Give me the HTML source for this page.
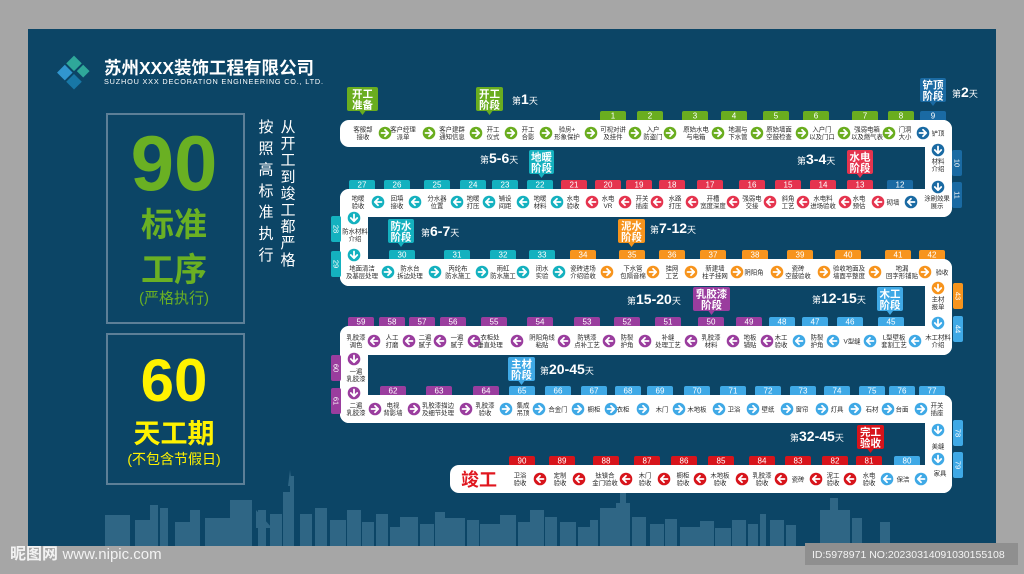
<!DOCTYPE html>
<html><head><meta charset="utf-8">
<style>
html,body{margin:0;padding:0;background:#a6a6a6;}
svg{display:block;}
text{font-family:"Liberation Sans","Noto Sans CJK SC",sans-serif;}
</style></head>
<body>
<svg id="s" width="1024" height="574" viewBox="0 0 1024 574" xmlns="http://www.w3.org/2000/svg">
<rect x="0" y="0" width="1024" height="574" fill="#a6a6a6"/>
<rect x="28" y="29" width="968" height="517" fill="#0c4566"/>
<g id="sky" fill="#2f6685"></g>
<rect x="805" y="543" width="213" height="22" fill="#8f8f8f"/>
<text x="10" y="559" font-size="16" font-weight="bold" fill="#f2f2f2">昵图网 <tspan font-size="15" font-weight="normal">www.nipic.com</tspan></text>
<text x="812" y="558" font-size="10.5" fill="#f4f4f4">ID:5978971 NO:20230314091030155108</text>
<g transform="translate(74,74) rotate(45)">
<rect x="-13" y="-13" width="11" height="11" fill="#2fa89a"/>
<rect x="0" y="-13" width="9" height="9" fill="#2fa89a"/>
<rect x="-13" y="0" width="11" height="11" fill="#3196cf"/>
<rect x="0" y="0" width="11" height="11" fill="#1877a6"/>
</g>
<text x="104" y="74" font-size="17.5" font-weight="bold" fill="#fff">苏州XXX装饰工程有限公司</text>
<text x="104" y="84" font-size="7.3" fill="#fff" textLength="219">SUZHOU XXX DECORATION ENGINEERING CO., LTD.</text>
<rect x="107" y="114" width="137" height="209" fill="none" stroke="#5d7f97" stroke-width="2"/>
<rect x="107" y="334" width="137" height="150" fill="none" stroke="#5d7f97" stroke-width="2"/>
<text x="174" y="190" font-size="78" font-weight="bold" fill="#6ab023" text-anchor="middle">90</text>
<text x="174" y="236" font-size="33" font-weight="bold" fill="#6ab023" text-anchor="middle">标准</text>
<text x="174" y="281" font-size="33" font-weight="bold" fill="#6ab023" text-anchor="middle">工序</text>
<text x="174" y="303" font-size="15" fill="#6ab023" text-anchor="middle">(严格执行)</text>
<text x="174" y="401" font-size="60" font-weight="bold" fill="#fff200" text-anchor="middle">60</text>
<text x="174" y="443" font-size="27" font-weight="bold" fill="#fff200" text-anchor="middle">天工期</text>
<text x="174" y="464" font-size="14" fill="#fff200" text-anchor="middle">(不包含节假日)</text>
<g id="g"></g>
</svg>
<script>
var g=document.getElementById('g'),h='';
var G='#6aad1f',B='#1a6aa3',T='#14b1bf',R='#e5344e',O='#f7941d',P='#9a3d9e',L='#3fa9e6',D='#d7141b';
var c1='按照高标准执行',c2='从开工到竣工都严格';
for(var i=0;i<c1.length;i++)h+='<text x="266" y="'+(132+i*21.3)+'" font-size="15" fill="#fff" text-anchor="middle">'+c1[i]+'</text>';
for(var i=0;i<c2.length;i++)h+='<text x="288" y="'+(132+i*16.6)+'" font-size="15" fill="#fff" text-anchor="middle">'+c2[i]+'</text>';
var sk=[[105,515,25,31],[135,520,20,26],[150,505,8,41],[160,508,8,38],[175,522,20,24],[190,510,10,36],[205,518,25,28],[230,500,22,46],[258,510,8,36],[270,514,12,32],[283,492,8,54],[290,476,4,70],[300,514,12,32],[315,508,12,38],[330,520,16,26],[347,510,14,36],[362,522,12,24],[376,514,12,32],[390,527,10,19],[400,517,18,29],[420,524,14,22],[435,512,10,34],[445,518,20,28],[467,520,12,26],[480,524,20,22],[500,515,16,31],[518,522,12,24],[530,510,14,36],[545,517,12,29],[560,522,16,24],[578,527,14,19],[590,520,8,26],[600,508,16,38],[620,476,6,70],[616,503,14,43],[632,517,14,29],[650,524,14,22],[665,519,12,27],[680,527,20,19],[700,521,14,25],[715,528,16,18],[732,520,14,26],[748,524,10,22],[760,514,6,32],[770,520,14,26],[786,525,10,21],[820,510,30,36],[830,498,8,48],[852,518,10,28],[880,522,10,24]];
var sh='';sk.forEach(function(b){sh+='<rect x="'+b[0]+'" y="'+b[1]+'" width="'+b[2]+'" height="'+b[3]+'"/>';});
sh+='<polygon points="290,470 292,486 288,486" /><polygon points="623,466 625,476 621,476"/><polygon points="256,510 272,528 256,528"/>';
document.getElementById('sky').innerHTML=sh;
var W='#fff';
[[340,120,612,27],[340,189,612,28],[340,259,612,27],[340,326,612,29],[340,395,612,28],[450,465,502,28]].forEach(function(r){h+='<rect x="'+r[0]+'" y="'+r[1]+'" width="'+r[2]+'" height="'+r[3]+'" rx="9" fill="'+W+'"/>';});
[[925,120,27,97],[340,189,28,97],[925,259,27,96],[340,326,28,97],[925,395,27,98]].forEach(function(r){h+='<rect x="'+r[0]+'" y="'+r[1]+'" width="'+r[2]+'" height="'+r[3]+'" rx="9" fill="'+W+'"/>';});
function lab(x,y,t,fs){var p=t.split('|');fs=fs||6.4;var lh=fs+1.1;var y0=y-(p.length-1)*lh/2+fs*0.36;
 p.forEach(function(s,i){h+='<text x="'+x+'" y="'+(y0+i*lh)+'" font-size="'+fs+'" fill="#2a2a2a" text-anchor="middle">'+s+'</text>';});}
function arr(x,y,d,c){var rot={r:0,l:180,d:90,u:-90}[d];
 h+='<g transform="translate('+x+','+y+') rotate('+rot+')"><circle r="6.3" fill="'+c+'"/><path d="M-3.5,0 H3 M0,-3.2 L3.2,0 L0,3.2" stroke="#fff" stroke-width="1.8" fill="none" stroke-linecap="round" stroke-linejoin="round"/></g>';}
function tag(x,y,n,c){h+='<path d="M'+(x-13)+','+(y+9)+' V'+(y+2)+' Q'+(x-13)+','+y+' '+(x-11)+','+y+' H'+(x+11)+' Q'+(x+13)+','+y+' '+(x+13)+','+(y+2)+' V'+(y+9)+' Z" fill="'+c+'"/><text x="'+x+'" y="'+(y+7.5)+'" font-size="8" fill="#fff" text-anchor="middle">'+n+'</text>';}
function vtag(x,y,n,c){h+='<rect x="'+x+'" y="'+y+'" width="10" height="26" rx="2" fill="'+c+'"/><text transform="translate('+(x+5)+','+(y+13)+') rotate(90)" y="2.5" font-size="7.5" fill="#fff" text-anchor="middle">'+n+'</text>';}
function call(x,y,w,c,t){var p=t.split('|');h+='<rect x="'+x+'" y="'+y+'" width="'+w+'" height="24" rx="2" fill="'+c+'"/><polygon points="'+(x+w/2-3)+','+(y+24)+' '+(x+w/2+3)+','+(y+24)+' '+(x+w/2)+','+(y+28)+'" fill="'+c+'"/>';
 p.forEach(function(s,i){h+='<text x="'+(x+w/2)+'" y="'+(y+10.5+i*11)+'" font-size="10.5" font-weight="bold" fill="#fff" text-anchor="middle">'+s+'</text>';});}
function day(x,y,n){h+='<text x="'+x+'" y="'+y+'" font-size="9" fill="#fff">第<tspan font-size="14" font-weight="bold">'+n+'</tspan>天</text>';}
var y1=133;
[[363,'客服部|接收'],[403,'客户经理|派单'],[452,'客户建群|通知信息'],[493,'开工|仪式'],[528,'开工|合影'],[567,'验房+|形象保护'],[613,'可视对讲|及挂件'],[653,'入户|防盗门'],[696,'原始水电|与电箱'],[738,'地漏与|下水管'],[779,'原始墙面|空鼓检查'],[822,'入户门|以及门口'],[867,'强弱电箱|以及燃气表'],[905,'门洞|大小'],[938,'铲顶']].forEach(function(a){lab(a[0],y1,a[1]);});
[385,429,476,511,546,591,635,670,718,757,802,844,889].forEach(function(x){arr(x,y1,'r',G);});arr(923,y1,'r',B);
[[613,1],[650,2],[695,3],[734,4],[776,5],[816,6],[865,7],[901,8]].forEach(function(a){tag(a[0],111,a[1],G);});tag(933,111,9,B);
arr(938,150,'d',B);lab(938,165,'材料|介绍');arr(938,187,'d',B);vtag(952,150,10,B);vtag(952,182,11,B);
var y2=202;
[[358,'地暖|验收'],[397,'回填|接收'],[437,'分水器|位置'],[473,'地暖|打压'],[505,'铺设|间距'],[540,'地暖|材料'],[573,'水电|验收'],[608,'水电|VR'],[642,'开关|插座'],[675,'水路|打压'],[713,'开槽|宽度深度'],[752,'强弱电|交接'],[788,'斜角|工艺'],[823,'水电料|进场验收'],[859,'水电|预估'],[893,'砌墙'],[937,'涂刷效果|展示']].forEach(function(a){lab(a[0],y2,a[1]);});
[378,415,457,489,523,557].forEach(function(x){arr(x,y2,'l',T);});[592,625,657,692,733,770,803,845,878].forEach(function(x){arr(x,y2,'l',R);});arr(911,y2,'l',B);
[[362,27],[397,26],[437,25],[473,24],[505,23],[540,22]].forEach(function(a){tag(a[0],180,a[1],T);});
[[574,21],[608,20],[639,19],[672,18],[710,17],[752,16],[788,15],[823,14],[860,13]].forEach(function(a){tag(a[0],180,a[1],R);});tag(900,180,12,B);
arr(354,218,'d',T);lab(355,235,'防水材料|介绍');arr(354,255,'d',T);vtag(331,216,28,T);vtag(331,251,29,T);
var y3=272;
[[362,'地面清洁|及基层处理'],[410,'防水台|拆边处理'],[458,'丙纶布|防水施工'],[503,'雨虹|防水施工'],[542,'闭水|实验'],[583,'瓷砖进场|介绍验收'],[633,'下水管|包隔音棉'],[672,'挂网|工艺'],[715,'新建墙|柱子挂网'],[754,'阴阳角'],[798,'瓷砖|空鼓验收'],[849,'验收地面及|墙面平整度'],[902,'地漏|回字形铺贴'],[942,'验收']].forEach(function(a){lab(a[0],y3,a[1]);});
[388,435,482,523,559].forEach(function(x){arr(x,y3,'r',T);});[607,653,691,737,777,824,875,925].forEach(function(x){arr(x,y3,'r',O);});
[[402,30],[457,31],[503,32],[542,33]].forEach(function(a){tag(a[0],250,a[1],T);});
[[583,34],[632,35],[672,36],[713,37],[755,38],[800,39],[848,40],[898,41],[932,42]].forEach(function(a){tag(a[0],250,a[1],O);});
arr(938,288,'d',O);lab(938,303,'主材|报单');arr(938,323,'d',L);vtag(953,283,43,O);vtag(953,316,44,L);
var y4=341;
[[356,'乳胶漆|调色'],[392,'人工|打磨'],[425,'二遍|腻子'],[457,'一遍|腻子'],[490,'衣柜处|垂直处理'],[542,'阴阳角线|粘贴'],[587,'防锈漆|点补工艺'],[627,'防裂|护角'],[668,'补缝|处理工艺'],[711,'乳胶漆|材料'],[750,'地板|铺贴'],[781,'木工|验收'],[817,'防裂|护角'],[852,'V型缝'],[894,'L型壁板|套割工艺'],[938,'木工材料|介绍']].forEach(function(a){lab(a[0],y4,a[1]);});
[374,409,440,474,517,564,609,645,691,733,767].forEach(function(x){arr(x,y4,'l',P);});[799,833,870,915].forEach(function(x){arr(x,y4,'l',L);});
[[361,59],[392,58],[422,57],[453,56],[494,55],[540,54],[587,53],[627,52],[668,51],[711,50],[749,49]].forEach(function(a){tag(a[0],317,a[1],P);});
[[782,48],[815,47],[850,46],[891,45]].forEach(function(a){tag(a[0],317,a[1],L);});
arr(354,359,'d',P);lab(356,375,'一遍|乳胶漆');arr(354,393,'d',P);vtag(331,355,60,P);vtag(331,388,61,P);
var y5=409;
[[356,'二遍|乳胶漆'],[393,'电视|背影墙'],[438,'乳胶漆描边|及细节处理'],[485,'乳胶漆|验收'],[523,'集成|吊顶'],[558,'合金门'],[594,'橱柜'],[623,'衣柜'],[662,'木门'],[697,'木地板'],[734,'卫浴'],[768,'壁纸'],[802,'窗帘'],[837,'灯具'],[872,'石材'],[902,'台面'],[937,'开关|插座']].forEach(function(a){lab(a[0],y5,a[1]);});
[375,414,466].forEach(function(x){arr(x,y5,'r',P);});[506,539,578,611,643,679,719,753,787,822,855,888,921].forEach(function(x){arr(x,y5,'r',L);});
[[393,62],[439,63],[486,64]].forEach(function(a){tag(a[0],386,a[1],P);});
[[522,65],[558,66],[594,67],[628,68],[660,69],[697,70],[733,71],[768,72],[803,73],[837,74],[872,75],[902,76],[932,77]].forEach(function(a){tag(a[0],386,a[1],L);});
arr(938,430,'d',L);lab(938,446,'美缝');arr(938,459,'d',L);vtag(953,420,78,L);vtag(953,452,79,L);
var y6=479;
h+='<text x="479" y="486" font-size="18" font-weight="bold" fill="#e0161e" text-anchor="middle">竣工</text>';
[[520,'卫浴|验收'],[560,'定制|验收'],[605,'钛镁合|金门验收'],[645,'木门|验收'],[683,'橱柜|验收'],[720,'木地板|验收'],[762,'乳胶漆|验收'],[798,'瓷砖'],[833,'泥工|验收'],[869,'水电|验收'],[903,'保洁']].forEach(function(a){lab(a[0],y6,a[1]);});
lab(940,473,'家具');
[540,579,626,664,700,742,781,816,850].forEach(function(x){arr(x,y6,'l',D);});[887,921].forEach(function(x){arr(x,y6,'l',L);});
[[522,90],[562,89],[606,88],[647,87],[684,86],[721,85],[762,84],[798,83],[835,82],[869,81]].forEach(function(a){tag(a[0],456,a[1],D);});tag(907,456,80,L);
call(347,87,31,G,'开工|准备');call(476,87,27,G,'开工|阶段');day(512,104,1);
call(920,78,26,B,'铲顶|阶段');day(952,97,2);
day(480,163,'5-6');call(529,150,25,T,'地暖|阶段');
day(797,164,'3-4');call(847,150,26,R,'水电|阶段');
call(388,219,26,T,'防水|阶段');day(421,236,'6-7');
call(618,219,27,O,'泥水|阶段');day(650,233,'7-12');
call(693,287,37,P,'乳胶漆|阶段');day(627,304,'15-20');
day(812,303,'12-15');call(877,287,26,L,'木工|阶段');
call(508,357,27,L,'主材|阶段');day(540,374,'20-45');
day(790,441,'32-45');call(857,425,27,D,'完工|验收');
g.innerHTML=h;
</script>
</body></html>
